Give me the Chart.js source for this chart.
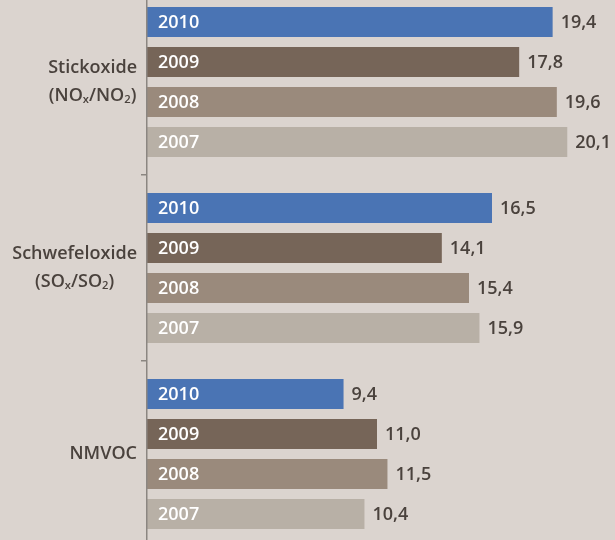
<!DOCTYPE html>
<html>
<head>
<meta charset="utf-8">
<script src="https://cdn.jsdelivr.net/npm/chart.js@4/dist/chart.umd.min.js"></script>
<style>
  html, body { margin: 0; padding: 0; width: 615px; height: 540px; overflow: hidden; background: #dbd4cf; }
  #wrap { position: absolute; left: 0; top: -11px; width: 615px; height: 558px; }
</style>
</head>
<body>
<div id="wrap"><canvas id="emChart"></canvas></div>
<script>
const categories = [['Stickoxide', '(NOₓ/NO₂)'], ['Schwefeloxide', '(SOₓ/SO₂)'], ['NMVOC']];
const years = ['2010', '2009', '2008', '2007'];
const values2010 = [19.4, 16.5, 9.4];
const values2009 = [17.8, 14.1, 11.0];
const values2008 = [19.6, 15.4, 11.5];
const values2007 = [20.1, 15.9, 10.4];
const barColors = ['#4a74b4', '#766558', '#9a8a7c', '#b8b0a6'];

const FONT = '"Open Sans", "DejaVu Sans", sans-serif';
const TEXT = '#4a423d';
const SUB = { 'ₓ': 'x', '₂': '2' };

// draw a line of text, turning unicode subscript chars into small lowered glyphs
function drawRich(c, str, x, y, size, measureOnly) {
    let pos = x;
    for (const ch of str) {
        const isSub = SUB[ch] !== undefined;
        const s = isSub ? size * 0.62 : size;
        c.font = '600 ' + s + 'px ' + FONT;
        const t = isSub ? SUB[ch] : ch;
        if (!measureOnly) c.fillText(t, pos, isSub ? y + size * 0.22 : y);
        pos += c.measureText(t).width;
    }
    return pos - x;
}

const labelPlugin = {
    id: 'labels',
    afterDatasetsDraw(chart) {
        const c = chart.ctx;
        c.save();
        c.textBaseline = 'middle';
        c.textAlign = 'left';
        chart.data.datasets.forEach((ds, i) => {
            const meta = chart.getDatasetMeta(i);
            meta.data.forEach((bar, j) => {
                c.font = '600 18px ' + FONT;
                c.fillStyle = '#ffffff';
                c.fillText(ds.label, bar.base + 11, bar.y + 1);
                c.fillStyle = TEXT;
                c.fillText(ds.data[j].toFixed(1).replace('.', ','), bar.x + 8, bar.y + 1);
            });
        });

        // category labels, lines centred within a right-aligned block
        const yScale = chart.scales.y;
        const right = 137;
        const lh = 28;
        categories.forEach((lines, k) => {
            const cy = yScale.getPixelForValue(k);
            const widths = lines.map(l => drawRich(c, l, 0, 0, 18, true));
            const blockW = Math.max(...widths);
            const mid = right - blockW / 2;
            c.fillStyle = TEXT;
            lines.forEach((l, n) => {
                const ly = cy + (n - (lines.length - 1) / 2) * lh;
                drawRich(c, l, mid - widths[n] / 2, ly, 18, false);
            });
        });
        c.restore();
    }
};

const ctx = document.getElementById('emChart');

new Chart(ctx, {
    type: 'bar',
    data: {
        labels: categories.map(l => l.join(' ')),
        datasets: [
            { label: years[0], data: values2010, backgroundColor: barColors[0] },
            { label: years[1], data: values2009, backgroundColor: barColors[1] },
            { label: years[2], data: values2008, backgroundColor: barColors[2] },
            { label: years[3], data: values2007, backgroundColor: barColors[3] },
        ]
    },
    options: {
        indexAxis: 'y',
        responsive: true,
        maintainAspectRatio: false,
        animation: false,
        categoryPercentage: 0.86,
        barPercentage: 0.75,
        layout: { padding: { left: 0, right: 8, top: 0, bottom: 0 } },
        scales: {
            x: { display: false, min: 0, max: 22 },
            y: {
                afterFit: (scale) => { scale.width = 147; },
                ticks: { display: false },
                grid: {
                    offset: true,
                    drawOnChartArea: false,
                    drawTicks: true,
                    tickLength: 6,
                    color: '#8b8681',
                    lineWidth: 1.5
                },
                border: { display: true, color: '#8b8681', width: 1.5, z: 1 }
            }
        },
        plugins: {
            legend: { display: false },
            tooltip: { enabled: false }
        }
    },
    plugins: [labelPlugin]
});
</script>
</body>
</html>
